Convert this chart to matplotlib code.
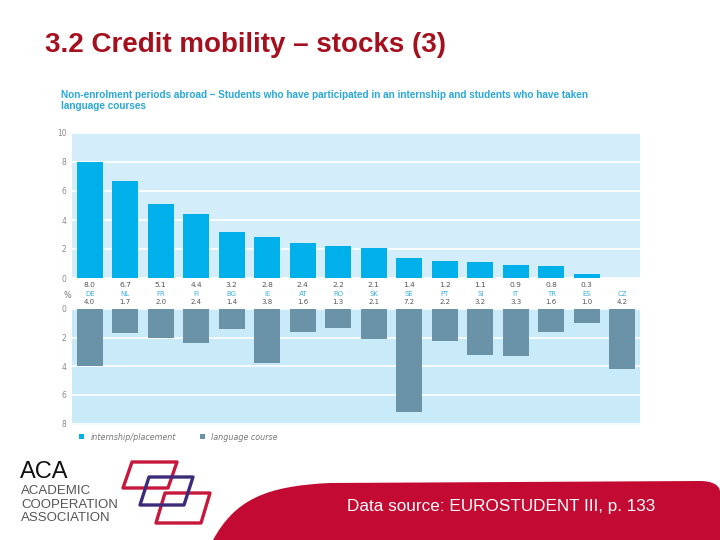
import matplotlib
matplotlib.use("Agg")
import matplotlib.pyplot as plt
from matplotlib.path import Path
from matplotlib.patches import PathPatch, Polygon, Patch
from matplotlib.transforms import blended_transform_factory
import numpy as np

countries = ["DE", "NL", "FR", "FI", "BG", "IE", "AT", "RO", "SK", "SE", "PT", "SI", "IT", "TR", "ES", "CZ"]
internship = [8.0, 6.7, 5.1, 4.4, 3.2, 2.8, 2.4, 2.2, 2.1, 1.4, 1.2, 1.1, 0.9, 0.8, 0.3, None]
language = [4.0, 1.7, 2.0, 2.4, 1.4, 3.8, 1.6, 1.3, 2.1, 7.2, 2.2, 3.2, 3.3, 1.6, 1.0, 4.2]
top_ticks = [0, 2, 4, 6, 8, 10]
bottom_ticks = [0, 2, 4, 6, 8]

W, H = 720, 540
fig = plt.figure(figsize=(7.2, 5.4), dpi=100)
fig.patch.set_facecolor("white")

def rect(x0, y0, x1, y1):
    return [x0 / W, 1 - y1 / H, (x1 - x0) / W, (y1 - y0) / H]

def fx(x):
    return x / W

def fy(y):
    return 1 - y / H

CYAN = "#00B0EA"
GREY = "#6B93A8"
BG_TOP = "#D3EEFA"
BG_BOT = "#C9EAF8"
TICK_C = "#8a8a8a"

# Slide title
fig.text(fx(45), fy(45), "3.2 Credit mobility \u2013 stocks (3)", fontsize=20, fontweight="bold",
         color="#A5101E", family=["Liberation Sans Narrow", "Liberation Sans", "DejaVu Sans"],
         ha="left", va="center")

# Chart subtitle
fig.text(fx(61), fy(95), "Non-enrolment periods abroad \u2013 Students who have participated in an internship and students who have taken",
         fontsize=7.2, fontweight="bold", color="#2AA7DC", family="Liberation Sans", ha="left", va="center")
fig.text(fx(61), fy(106), "language courses",
         fontsize=7.2, fontweight="bold", color="#2AA7DC", family="Liberation Sans", ha="left", va="center")

x = np.arange(len(countries))

# Upper axes: internship
ax1 = fig.add_axes(rect(72, 133, 640, 278))
ax1.set_facecolor(BG_TOP)
vals_top = [v if v is not None else 0 for v in internship]
ax1.bar(x, vals_top, width=0.73, color=CYAN, zorder=3)
ax1.set_xlim(-0.5, len(countries) - 0.5)
ax1.set_ylim(0, 10)
ax1.set_yticks(top_ticks)
ax1.set_yticklabels([str(t) for t in top_ticks])
ax1.grid(axis="y", color="white", linewidth=1.2, zorder=1)
ax1.set_xticks([])
for s in ax1.spines.values():
    s.set_visible(False)
ax1.tick_params(axis="y", length=0, labelsize=5.5, labelcolor=TICK_C, pad=4)

# Lower axes: language course
ax2 = fig.add_axes(rect(72, 309, 640, 425))
ax2.set_facecolor(BG_BOT)
ax2.bar(x, language, width=0.73, color=GREY, zorder=3)
ax2.set_xlim(-0.5, len(countries) - 0.5)
ax2.set_ylim(8.1, 0)
ax2.set_yticks(bottom_ticks)
ax2.set_yticklabels([str(t) for t in bottom_ticks])
ax2.grid(axis="y", color="white", linewidth=1.2, zorder=1)
ax2.set_xticks([])
for s in ax2.spines.values():
    s.set_visible(False)
ax2.tick_params(axis="y", length=0, labelsize=5.5, labelcolor=TICK_C, pad=4)

# Labels between the panels
tr = blended_transform_factory(ax1.transData, fig.transFigure)
for i, c in enumerate(countries):
    if internship[i] is not None:
        ax1.text(i, fy(285), f"{internship[i]:.1f}", transform=tr, ha="center", va="center",
                 fontsize=5.4, color="#555555", clip_on=False)
    ax1.text(i, fy(294), c, transform=tr, ha="center", va="center",
             fontsize=5.0, color="#3DB0E0", clip_on=False)
    ax1.text(i, fy(302), f"{language[i]:.1f}", transform=tr, ha="center", va="center",
             fontsize=5.0, color="#555555", clip_on=False)
fig.text(fx(67), fy(295), "%", fontsize=5.8, color="#777777", ha="center", va="center")

# Legend
handles = [Patch(facecolor=CYAN, edgecolor="none"), Patch(facecolor=GREY, edgecolor="none")]
leg = fig.legend(handles, ["internship/placement", "language course"], loc="center left",
                 bbox_to_anchor=(fx(72), fy(437)), ncol=2, frameon=False,
                 handlelength=0.6, handleheight=0.6, handletextpad=0.8, columnspacing=3.0,
                 prop={"size": 5.8, "style": "italic"})
for t in leg.get_texts():
    t.set_color("#777777")

# Red footer shape
verts = [(213, 540), (235, 500), (265, 486), (330, 483), (700, 481), (712, 481), (720, 485), (720, 492),
         (720, 540), (213, 540)]
codes = [Path.MOVETO, Path.CURVE4, Path.CURVE4, Path.CURVE4, Path.LINETO, Path.CURVE4, Path.CURVE4, Path.CURVE4,
         Path.LINETO, Path.CLOSEPOLY]
verts_f = [(fx(a), fy(b)) for a, b in verts]
fig.patches.append(PathPatch(Path(verts_f, codes), facecolor="#C20A33", edgecolor="none",
                             transform=fig.transFigure, zorder=0))
fig.text(fx(501), fy(507), "Data source: EUROSTUDENT III, p. 133", fontsize=12.3, color="white",
         family="Liberation Sans", ha="center", va="center")

# ACA logo text
fig.text(fx(20), fy(472), "ACA", fontsize=17, color="#111111", family="Liberation Sans", ha="left", va="center")
for yy, s in zip([491, 505, 518], ["ACADEMIC", "COOPERATION", "ASSOCIATION"]):
    fig.text(fx(21), fy(yy), s, fontsize=9.5, color="#555555", family="Liberation Sans", ha="left", va="center")

# ACA logo parallelograms
shapes = [
    ([(132, 462), (177, 462), (168, 488), (123, 488)], "#C8173C"),
    ([(165, 493), (210, 493), (201, 523), (156, 523)], "#C8173C"),
    ([(149, 477), (193, 477), (184, 505), (140, 505)], "#3D2A78"),
]
for pts, col in shapes:
    p = Polygon([(fx(a), fy(b)) for a, b in pts], closed=True, fill=False, edgecolor=col,
                linewidth=2.4, joinstyle="round", transform=fig.transFigure)
    fig.patches.append(p)

fig.savefig("out.png", dpi=100)
